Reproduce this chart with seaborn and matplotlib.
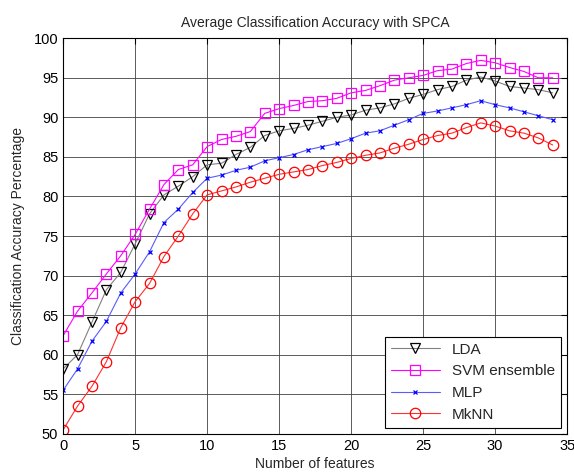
import numpy as np
import pandas as pd
import matplotlib
matplotlib.use("Agg")
import matplotlib.pyplot as plt
import seaborn as sns

features = list(range(35))

lda = [58.2, 60.0, 64.1, 68.2, 70.4, 74.0, 77.8, 80.2, 81.3, 82.5,
       84.0, 84.2, 85.3, 86.2, 87.7, 88.3, 88.6, 89.0, 89.5, 90.0,
       90.3, 90.9, 91.2, 91.7, 92.4, 92.9, 93.5, 93.9, 94.7, 95.1,
       94.6, 93.9, 93.7, 93.5, 93.1]
svm = [62.4, 65.5, 67.8, 70.2, 72.5, 75.2, 78.4, 81.5, 83.4, 84.0,
       86.3, 87.2, 87.6, 88.2, 90.5, 91.1, 91.5, 92.0, 92.1, 92.4,
       93.1, 93.4, 94.0, 94.7, 95.0, 95.3, 95.9, 96.1, 96.8, 97.2,
       96.9, 96.3, 95.8, 95.0, 95.0]
mlp = [55.5, 58.2, 61.7, 64.2, 67.8, 70.2, 73.0, 76.7, 78.4, 80.5,
       82.3, 82.7, 83.3, 83.7, 84.5, 84.9, 85.3, 85.9, 86.3, 86.7,
       87.3, 88.0, 88.3, 89.0, 89.7, 90.5, 90.8, 91.2, 91.6, 92.1,
       91.6, 91.2, 90.7, 90.2, 89.7]
mknn = [50.5, 53.5, 56.0, 59.1, 63.4, 66.7, 69.0, 72.4, 75.0, 77.8,
        80.2, 80.7, 81.2, 81.8, 82.3, 82.8, 83.1, 83.4, 83.9, 84.3,
        84.8, 85.2, 85.5, 86.1, 86.6, 87.2, 87.7, 88.0, 88.7, 89.3,
        88.9, 88.3, 88.0, 87.4, 86.5]

sns.set_style("white")
plt.rcParams['font.family'] = ['Liberation Sans', 'DejaVu Sans']

fig = plt.figure(figsize=(5.74, 4.72), dpi=100)
ax = fig.add_axes([0.110, 0.081, 0.878, 0.838])

series = [
    ("LDA", lda, "#808080", "black", "v", 7),
    ("SVM ensemble", svm, "#ff00ff", "#ff00ff", "s", 7),
    ("MLP", mlp, "#5a5aff", "#0000ff", "x", 3.5),
    ("MkNN", mknn, "#ff3030", "#ff0000", "o", 7.5),
]

for name, vals, lc, mc, mk, ms in series:
    df = pd.DataFrame({"feat": features, "acc": vals})
    sns.lineplot(data=df, x="feat", y="acc", ax=ax, color=lc, linewidth=0.8,
                 marker=mk, markersize=ms, markerfacecolor="none",
                 markeredgecolor=mc, markeredgewidth=0.9, label=name)

ax.set_xlim(0, 35)
ax.set_ylim(50, 100)
ax.set_xticks(range(0, 36, 5))
ax.set_yticks(range(50, 101, 5))
ax.grid(True, color="#404040", linewidth=0.6)
for s in ax.spines.values():
    s.set_color("black")
    s.set_linewidth(0.8)
ax.tick_params(direction="in", length=4, labelsize=10.5, colors="black",
               top=True, right=True)

ax.set_title("Average Classification Accuracy with SPCA", fontsize=10, pad=8)
ax.set_xlabel("Number of features", fontsize=10, labelpad=3)
ax.set_ylabel("Classification Accuracy Percentage", fontsize=10, labelpad=6)

leg = ax.legend(loc="lower right", fontsize=11, frameon=True, fancybox=False,
                edgecolor="black", framealpha=1, handlelength=3.2,
                borderaxespad=0.4, labelspacing=0.5)
leg.get_frame().set_linewidth(0.8)

fig.savefig("out.png", dpi=100)
